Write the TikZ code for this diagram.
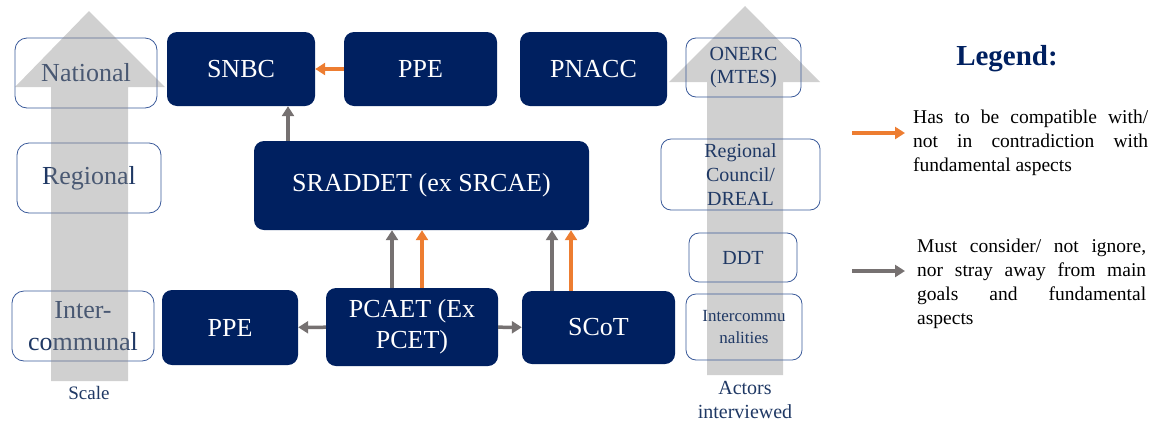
\documentclass[tikz,border=0pt]{standalone}
\usepackage{fontspec}
\setmainfont{Liberation Serif}
\usepackage{tikz}
\usetikzlibrary{arrows.meta}
\definecolor{navy}{HTML}{002060}
\definecolor{labelblue}{HTML}{1F3864}
\definecolor{frameblue}{HTML}{3A5A9A}
\definecolor{orangeline}{HTML}{ED7D31}
\definecolor{grayline}{HTML}{767171}
\definecolor{scalegray}{RGB}{137,137,137}
\definecolor{actorgray}{RGB}{208,208,208}
\tikzstyle{compatarrow} = [line width=3.5pt,-{Triangle[length=10pt,width=12pt]},orangeline]
\tikzstyle{considerarrow} = [line width=3.5pt,-{Triangle[length=10pt,width=12pt]},grayline]

\begin{document}
\begin{tikzpicture}[x=1pt,y=-1pt,
  plan/.style={rectangle, rounded corners=10pt, fill=navy, text=white, align=center, inner sep=0pt, font=\fontsize{26}{31}\selectfont},
  level/.style={rectangle, rounded corners=12pt, draw=frameblue, line width=0.8pt, text=labelblue, align=center, inner sep=0pt, minimum width=142pt, minimum height=70pt, font=\fontsize{26}{32}\selectfont},
  actor/.style={rectangle, rounded corners=10pt, draw=frameblue, line width=0.8pt, text=labelblue, align=center, inner sep=0pt, font=\fontsize{20}{24}\selectfont},
  legendtext/.style={anchor=west, inner sep=0pt, align=justify, font=\fontsize{19.5}{24}\selectfont}]
		
		\useasboundingbox (0,0) rectangle (1156,421);
		
		% SCALE LEVELS
		
		\node [level] (national) at (86,73) {National};
		\node [level, minimum width=144pt] (regional) at (89,178) {Regional};
		\node [level] (intercom) at (83,326) {Inter-\\communal};
		\node [text=labelblue, font=\fontsize{19}{22}\selectfont] (scale) at (89,393) {Scale};
		\fill [scalegray, fill opacity=0.4] (51,381) -- (51,87) -- (15,87) -- (89,11) -- (165,87) -- (128,87) -- (128,381) -- cycle;
		
		% ACTORS
		
		\fill [actorgray] (707,375) -- (707,82) -- (669,82) -- (745,6) -- (820,82) -- (783,82) -- (783,375) -- cycle;
		\node [actor, minimum width=115pt, minimum height=59pt, font=\fontsize{20}{23}\selectfont] (onerc) at (743.5,67.5) {ONERC\\(MTES)};
		\node [actor, minimum width=159pt, minimum height=71pt] (council) at (740.5,174.5) {Regional\\Council/\\DREAL};
		\node [actor, minimum width=108pt, minimum height=49pt] (ddt) at (743,257.5) {DDT};
		\node [actor, minimum width=116pt, minimum height=66pt, font=\fontsize{17}{22}\selectfont] (intercomm) at (744,327) {Intercommu\\nalities};
		\node [text=labelblue, align=center, font=\fontsize{20}{24}\selectfont] (actors) at (745,400) {Actors\\interviewed};
		
		% PLANS
		
		\node [plan, minimum width=148pt, minimum height=74pt] (snbc) at (241,69) {SNBC};
		\node [plan, minimum width=153pt, minimum height=74pt] (ppetop) at (420.5,69) {PPE};
		\node [plan, minimum width=147pt, minimum height=74pt] (pnacc) at (593.5,69) {PNACC};
		\node [plan, minimum width=335pt, minimum height=89pt] (sraddet) at (421.5,185.5) {SRADDET (ex SRCAE)};
		\node [plan, minimum width=136pt, minimum height=75pt] (ppe) at (230,327.5) {PPE};
		\node [plan, minimum width=172pt, minimum height=78pt] (pcaet) at (412,327) {PCAET (Ex\\PCET)};
		\node [plan, minimum width=153pt, minimum height=73pt] (scot) at (598.5,327.5) {SCoT};
		
		% LINKS
		
		\draw [compatarrow] (ppetop) -- (snbc);
		\draw [considerarrow] ([xshift=47pt]snbc.south |- sraddet.north) -- ([xshift=47pt]snbc.south);
		\draw [considerarrow] ([xshift=-20pt]pcaet.north) -- ([xshift=-20pt]pcaet.north |- sraddet.south);
		\draw [compatarrow] ([xshift=10pt]pcaet.north) -- ([xshift=10pt]pcaet.north |- sraddet.south);
		\draw [considerarrow] ([xshift=-46.5pt]scot.north) -- ([xshift=-46.5pt]scot.north |- sraddet.south);
		\draw [compatarrow] ([xshift=-27.5pt]scot.north) -- ([xshift=-27.5pt]scot.north |- sraddet.south);
		\draw [considerarrow] (pcaet) -- (ppe);
		\draw [considerarrow] (pcaet) -- (scot);
		
		% LEGEND
		
		\node [text=navy, font=\fontsize{29}{32}\selectfont\bfseries] (legend) at (1007,59) {Legend:};
		\coordinate (compatstart) at (852,133);
		\coordinate (compatend) at (905,133);
		\coordinate (considerstart) at (852,271);
		\coordinate (considerend) at (905,271);
		\draw [compatarrow] (compatstart) -- (compatend);
		\draw [considerarrow] (considerstart) -- (considerend);
		\node [legendtext, text width=235pt] (compattext) at (913,143) {Has to be compatible with/\linebreak not in contradiction with\linebreak fundamental aspects};
		\node [legendtext, text width=229pt] (considertext) at (917,284) {Must consider/ not ignore,\linebreak nor stray away from main\linebreak goals and fundamental\linebreak aspects};
		
\end{tikzpicture}
\end{document}
